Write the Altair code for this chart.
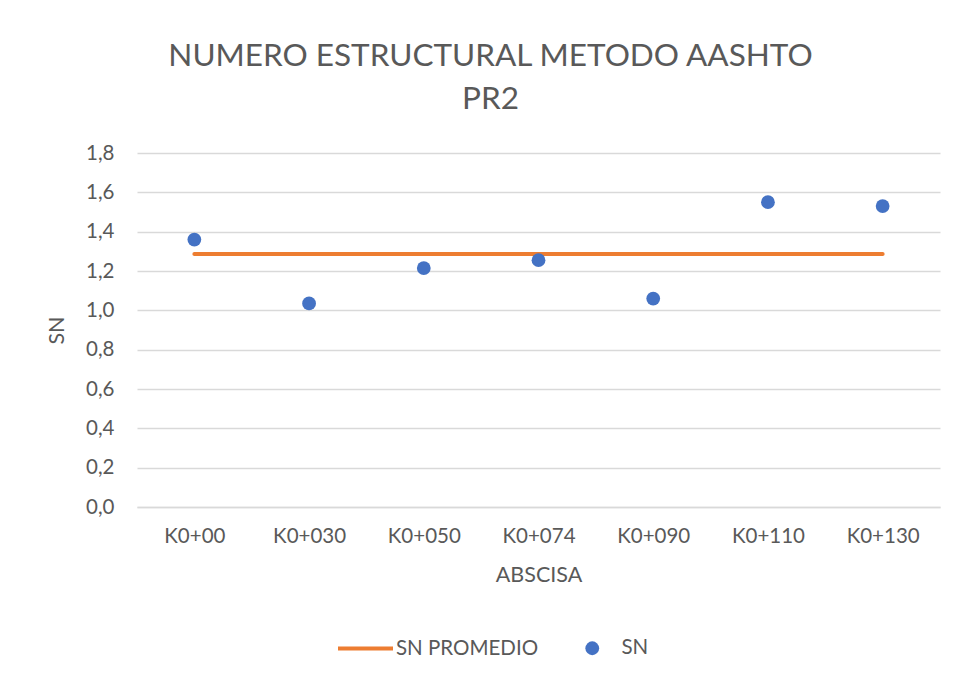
import altair as alt
import pandas as pd

abscisa = ["K0+00", "K0+030", "K0+050", "K0+074", "K0+090", "K0+110", "K0+130"]
sn = [1.36, 1.035, 1.215, 1.255, 1.06, 1.55, 1.53]
sn_promedio = [1.286, 1.286, 1.286, 1.286, 1.286, 1.286, 1.286]
y_ticks = [0.0, 0.2, 0.4, 0.6, 0.8, 1.0, 1.2, 1.4, 1.6, 1.8]

df = pd.DataFrame({
    "abscisa": abscisa,
    "sn": sn,
    "promedio": sn_promedio,
    "serie_linea": ["SN PROMEDIO"] * len(abscisa),
    "serie_punto": ["SN"] * len(abscisa),
})

FONT = "Lato"
TXT = "#595959"
GRID = "#D9D9D9"

x_enc = alt.X(
    "abscisa:N",
    sort=abscisa,
    scale=alt.Scale(type="point", padding=0.5),
    axis=alt.Axis(
        title="ABSCISA", labelAngle=0, ticks=False, domain=True, domainColor=GRID,
        domainWidth=1.5, grid=False, labelPadding=19, titlePadding=18,
        labelFontSize=20.5, titleFontSize=21.5, labelColor=TXT, titleColor=TXT,
        labelFont=FONT, titleFont=FONT, titleFontWeight="normal",
    ),
)
y_scale = alt.Scale(domain=[0, 1.8], nice=False, zero=True)
y_axis = alt.Axis(
    title="SN", values=y_ticks, ticks=False, domain=False, grid=True,
    gridColor=GRID, gridWidth=1.5,
    labelExpr="replace(format(datum.value, '.1f'), '.', ',')",
    labelPadding=23, titlePadding=17, labelFontSize=20.5, titleFontSize=21.5,
    labelColor=TXT, titleColor=TXT, labelFont=FONT, titleFont=FONT,
    titleFontWeight="normal",
)

linea = alt.Chart(df).mark_line(strokeWidth=4, strokeCap="round").encode(
    x=x_enc,
    y=alt.Y("promedio:Q", scale=y_scale, axis=y_axis),
    stroke=alt.Stroke(
        "serie_linea:N",
        scale=alt.Scale(domain=["SN PROMEDIO"], range=["#ED7D31"]),
        legend=alt.Legend(
            title=None, orient="none", legendX=199, legendY=466,
            symbolType="stroke", symbolSize=3025, symbolStrokeWidth=4,
            labelFontSize=20.5, labelColor=TXT, labelFont=FONT, labelOffset=1,
        ),
    ),
)

puntos = alt.Chart(df).mark_point(filled=True, size=190, opacity=1).encode(
    x=x_enc,
    y=alt.Y("sn:Q", scale=y_scale, axis=y_axis),
    fill=alt.Fill(
        "serie_punto:N",
        scale=alt.Scale(domain=["SN"], range=["#4472C4"]),
        legend=alt.Legend(
            title=None, orient="none", legendX=445, legendY=485,
            symbolType="circle", symbolSize=190, symbolStrokeWidth=0,
            labelFontSize=20.5, labelColor=TXT, labelFont=FONT, labelOffset=19,
        ),
    ),
)

chart = alt.layer(linea, puntos).properties(
    width=803,
    height=354,
    padding={"left": 129, "top": 145, "right": 11, "bottom": 165},
    autosize=alt.AutoSizeParams(type="none"),
    title=alt.TitleParams(
        text=["NUMERO ESTRUCTURAL METODO AASHTO", "PR2"],
        fontSize=31.5, font=FONT, fontWeight="normal", color=TXT,
        anchor="middle", dx=-48, offset=28, lineHeight=43,
    ),
).configure_view(stroke=None)

chart.save("out.html", embed_options={"renderer": "svg", "actions": False})
